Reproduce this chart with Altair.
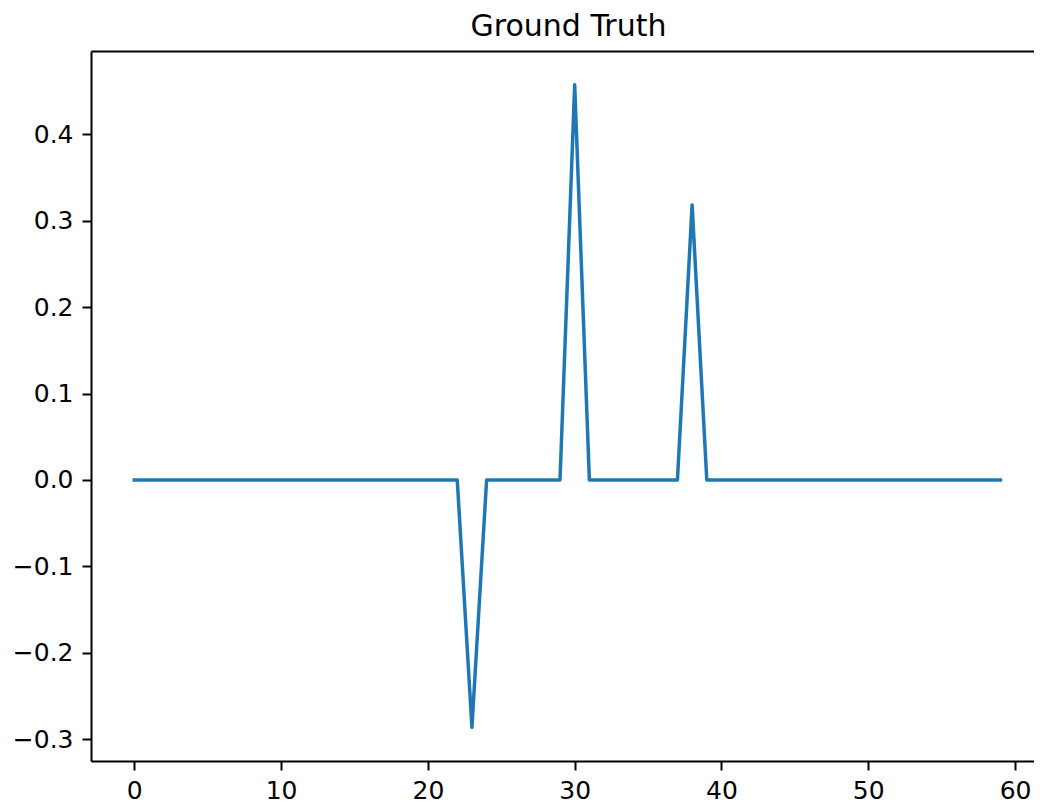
import altair as alt
import pandas as pd

x_vals = [0, 1, 2, 3, 4, 5, 6, 7, 8, 9,
          10, 11, 12, 13, 14, 15, 16, 17, 18, 19,
          20, 21, 22, 23, 24, 25, 26, 27, 28, 29,
          30, 31, 32, 33, 34, 35, 36, 37, 38, 39,
          40, 41, 42, 43, 44, 45, 46, 47, 48, 49,
          50, 51, 52, 53, 54, 55, 56, 57, 58, 59]
y_vals = [0.0, 0.0, 0.0, 0.0, 0.0, 0.0, 0.0, 0.0, 0.0, 0.0,
          0.0, 0.0, 0.0, 0.0, 0.0, 0.0, 0.0, 0.0, 0.0, 0.0,
          0.0, 0.0, 0.0, -0.286, 0.0, 0.0, 0.0, 0.0, 0.0, 0.0,
          0.457, 0.0, 0.0, 0.0, 0.0, 0.0, 0.0, 0.0, 0.318, 0.0,
          0.0, 0.0, 0.0, 0.0, 0.0, 0.0, 0.0, 0.0, 0.0, 0.0,
          0.0, 0.0, 0.0, 0.0, 0.0, 0.0, 0.0, 0.0, 0.0, 0.0]
x_ticks = [0, 10, 20, 30, 40, 50, 60]
y_ticks = [-0.3, -0.2, -0.1, 0.0, 0.1, 0.2, 0.3, 0.4]
title_text = "Ground Truth"

df = pd.DataFrame({"x": x_vals, "y": y_vals})

FONT = "DejaVu Sans"
x_scale = alt.Scale(domain=[-2.95, 61.29], nice=False, zero=False)
y_scale = alt.Scale(domain=[-0.3249, 0.496], nice=False, zero=False)

common_axis = dict(
    grid=False,
    domainColor="black",
    domainWidth=2,
    tickColor="black",
    tickWidth=2,
    tickSize=9,
    labelFont=FONT,
    labelFontSize=25,
    labelColor="black",
    title=None,
)

line = alt.Chart(df).mark_line(
    color="#1f77b4", strokeWidth=3.5, strokeJoin="round", strokeCap="square"
).encode(
    x=alt.X("x:Q", scale=x_scale,
            axis=alt.Axis(values=x_ticks, format="d", labelPadding=8, orient="bottom", **common_axis)),
    y=alt.Y("y:Q", scale=y_scale,
            axis=alt.Axis(values=y_ticks, format=".1f", labelPadding=9, **common_axis)),
)

top = alt.Chart(df).mark_line(opacity=0).encode(
    x=alt.X("x:Q", scale=x_scale,
            axis=alt.Axis(orient="top", labels=False, ticks=False, grid=False,
                          domainColor="black", domainWidth=2, title=None)),
    y=alt.Y("y:Q", scale=y_scale),
)

chart = alt.layer(line, top).resolve_axis(x="independent").properties(
    width=943,
    height=710,
    autosize=alt.AutoSizeParams(type="none"),
    padding={"left": 83, "top": 43, "right": 0, "bottom": 45},
    title=alt.TitleParams(title_text, font=FONT, fontSize=30, fontWeight="normal",
                          color="black", anchor="middle", offset=9, dx=6),
).configure_view(stroke=None)

chart.save("out.html", embed_options={"renderer": "svg", "actions": False})
